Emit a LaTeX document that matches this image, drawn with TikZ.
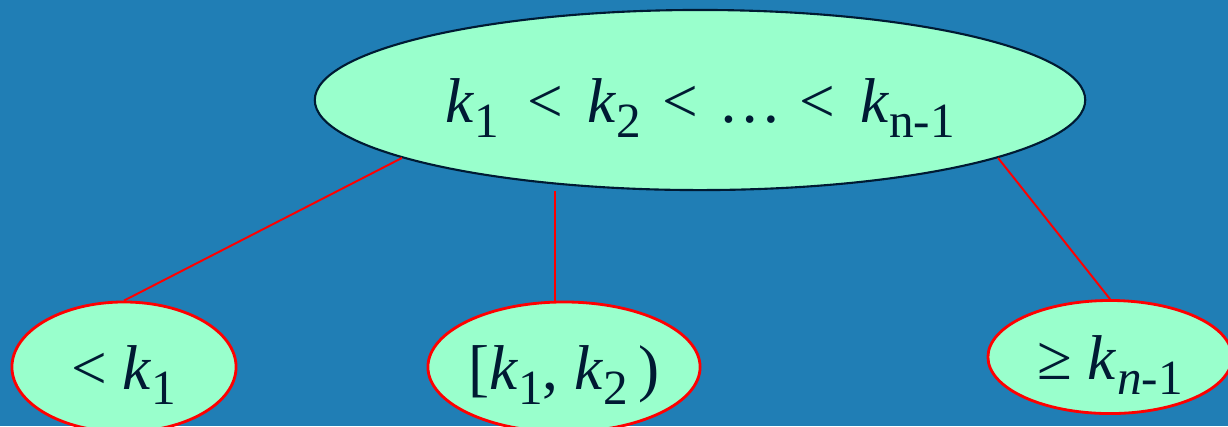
\documentclass[tikz,border=0pt]{standalone}
\usepackage{fontspec}
\setmainfont{Liberation Serif}
\usepackage{xcolor}
\usepackage{tikz}
\usetikzlibrary{shapes.geometric, positioning}

\definecolor{slidebg}{RGB}{32,126,181}
\definecolor{keyfill}{RGB}{153,255,204}
\definecolor{keyink}{RGB}{0,26,51}

\newcommand\kk{\textit{k}}
\newcommand\ksub[1]{\raisebox{-4.2pt}{\fontsize{14}{15}\selectfont #1}}

\begin{document}
\begin{tikzpicture}[x=0.01cm, y=-0.01cm,
    keynode/.style={ellipse, fill=keyfill, inner sep=0pt, text=keyink,
      text height=13pt, text depth=0pt,
      font=\fontsize{18}{21}\selectfont},
    link/.style={red, line width=0.55pt}]
  % Background
  \fill[slidebg] (0,0) rectangle (1228,426);
  \useasboundingbox (0,0) rectangle (1228,426);

  % Root node
  \node[keynode, draw=keyink, line width=0.6pt,
    minimum width=7.7cm, minimum height=1.8cm] (root) at (700,100)
    {\kk\ksub{1}\hspace{8pt}<\hspace{7pt}\kk\ksub{2}\hspace{6pt}<\hspace{6pt}\dots\hspace{5pt}<\hspace{7pt}\kk\ksub{n-1}};

  % Children
  \node[keynode, draw=red, line width=0.8pt,
    minimum width=2.24cm, minimum height=1.3cm] (low) at (124,367)
    {< \kk\ksub{1}};
  \node[keynode, draw=red, line width=0.8pt,
    minimum width=2.72cm, minimum height=1.3cm] (mid) at (564,367)
    {[\kk\ksub{1}, \kk\ksub{2}\,)};
  \node[keynode, draw=red, line width=0.8pt,
    minimum width=2.44cm, minimum height=1.13cm] (high) at (1110,357)
    {≥ \kk\ksub{\textit{n}-1}};

  % Links
  \draw[link] (root.191) -- (low.north);
  \draw[link] (mid.98) -- (mid.98 |- root.south);
  \draw[link] (root.-11) -- (high.north);
\end{tikzpicture}
\end{document}
